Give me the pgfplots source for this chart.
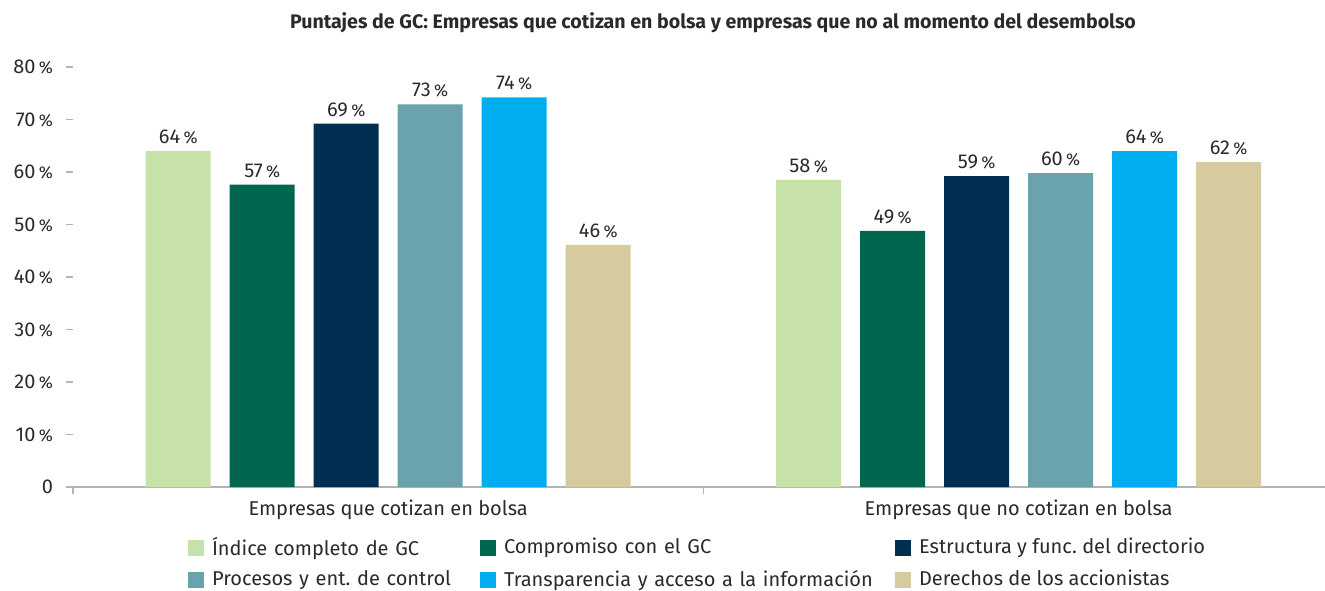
\documentclass[border=0pt]{standalone}
\usepackage{fontspec}
\setmainfont{Fira Sans}
\usepackage{pgfplots}
\pgfplotsset{compat=1.18}
\definecolor{c1}{HTML}{C6E2A9}
\definecolor{c2}{HTML}{006650}
\definecolor{c3}{HTML}{002F52}
\definecolor{c4}{HTML}{6AA2AD}
\definecolor{c5}{HTML}{00AEEF}
\definecolor{c6}{HTML}{D6CB9F}
\definecolor{txt}{HTML}{2A2A2A}
\definecolor{axg}{HTML}{B4B4B4}
\newcommand{\pct}{{\fontsize{8.5}{9}\selectfont\%}}
\frenchspacing
\begin{document}
\frenchspacing
\begin{tikzpicture}
\begin{axis}[
  at={(0,0)}, anchor=south west,
  scale only axis, width=626pt, height=210pt,
  font=\fontsize{10}{12}\selectfont, text=txt,
  ybar=9.5pt, bar width=32.5pt,
  xmin=-0.5, xmax=1.486, ymin=0, ymax=80,
  separate axis lines,
  axis x line*=bottom, axis y line*=left,
  x axis line style={draw=axg, line width=1pt, -},
  y axis line style={draw=none},
  tick align=outside,
  ytick={0,10,20,30,40,50,60,70,80},
  yticklabels={0,10\,\pct,20\,\pct,30\,\pct,40\,\pct,50\,\pct,60\,\pct,70\,\pct,80\,\pct},
  ytick style={draw=axg, line width=0.6pt},
  yticklabel style={anchor=east, xshift=-3pt},
  xtick={-0.5,0.5},
  xticklabels={Empresas que cotizan en bolsa, Empresas que no cotizan en bolsa},
  xtick style={draw=axg, line width=0.8pt},
  xticklabel style={xshift=157.6pt, yshift=0.5pt},
  major tick length=3.5pt,
  point meta=explicit symbolic,
  nodes near coords={\pgfplotspointmeta\,\pct},
  every node near coord/.append style={font=\fontsize{10}{12}\selectfont, text=txt},
  legend columns=3,
  legend cell align=left,
  legend style={at={(0.0919,-0.181)}, anchor=west, draw=none, fill=none,
    inner sep=0pt, outer sep=0pt,
    font=\fontsize{10}{12}\selectfont, text=txt, row sep=2pt,
    /tikz/every odd column/.append style={column sep=2pt},
    /tikz/column 2/.append style={text width=132pt},
    /tikz/column 4/.append style={text width=193.5pt}},
  legend image code/.code={\fill[#1] (0pt,-4pt) rectangle (8pt,4pt);},
]
\addplot[fill=c1, draw=none] coordinates {(0,64.0) [64] (1,58.5) [58]};
\addplot[fill=c2, draw=none] coordinates {(0,57.6) [57] (1,48.8) [49]};
\addplot[fill=c3, draw=none] coordinates {(0,69.2) [69] (1,59.2) [59]};
\addplot[fill=c4, draw=none] coordinates {(0,72.9) [73] (1,59.8) [60]};
\addplot[fill=c5, draw=none] coordinates {(0,74.2) [74] (1,64.0) [64]};
\addplot[fill=c6, draw=none] coordinates {(0,46.1) [46] (1,61.9) [62]};
\legend{Índice completo de GC, Compromiso con el GC, Estructura y func. del directorio,
  Procesos y ent. de control, Transparencia y acceso a la información, Derechos de los accionistas}
\end{axis}
\node[font=\fontsize{9.8}{11}\selectfont\bfseries, text=txt, anchor=base] at (320pt,229pt)
  {Puntajes de GC: Empresas que cotizan en bolsa y empresas que no al momento del desembolso};
\pgfresetboundingbox
\path[use as bounding box] (-36.5pt,-51.5pt) rectangle (626pt,243.5pt);
\end{tikzpicture}
\end{document}
